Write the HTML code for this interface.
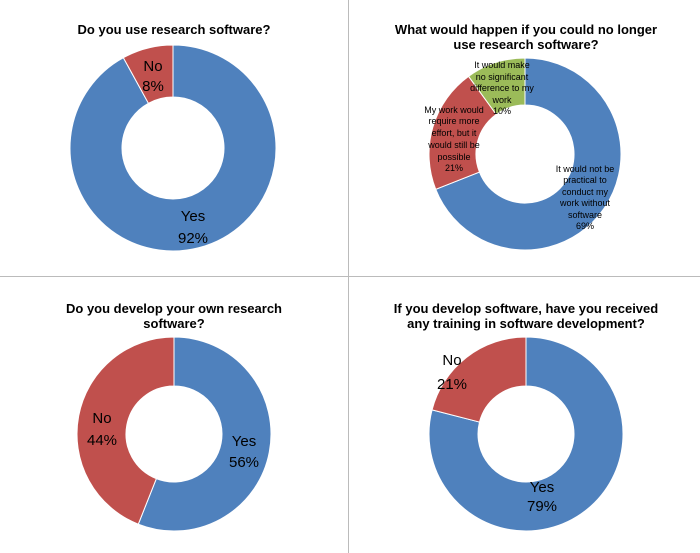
<!DOCTYPE html>
<html><head><meta charset="utf-8"><style>
body{margin:0;background:#fff;}
svg{display:block;}
text{font-family:"Liberation Sans",sans-serif;fill:#000;}
.t{font-weight:bold;font-size:13px;text-anchor:middle;}
.l{font-size:15px;text-anchor:middle;}
.s{font-size:9px;text-anchor:middle;}
</style></head><body>
<svg id="c" width="700" height="553" viewBox="0 0 700 553">
<rect width="700" height="553" fill="#fff"/>
<line x1="348.5" y1="0" x2="348.5" y2="553" stroke="#bbb"/>
<line x1="0" y1="276.5" x2="700" y2="276.5" stroke="#bbb"/>
<g id="p"></g>
<text class="t" x="174" y="34">Do you use research software?</text>
<text class="t" x="526" y="34">What would happen if you could no longer</text>
<text class="t" x="526" y="49">use research software?</text>
<text class="t" x="174" y="313">Do you develop your own research</text>
<text class="t" x="174" y="328">software?</text>
<text class="t" x="526" y="313">If you develop software, have you received</text>
<text class="t" x="526" y="328">any training in software development?</text>
<text class="l" x="153" y="71">No</text><text class="l" x="153" y="91">8%</text>
<text class="l" x="193" y="221">Yes</text><text class="l" x="193" y="243">92%</text>
<text class="s" x="502" y="68">It would make</text><text class="s" x="502" y="80">no significant</text><text class="s" x="502" y="91">difference to my</text><text class="s" x="502" y="103">work</text><text class="s" x="502" y="114">10%</text>
<text class="s" x="454" y="113">My work would</text><text class="s" x="454" y="124">require more</text><text class="s" x="454" y="136">effort, but it</text><text class="s" x="454" y="148">would still be</text><text class="s" x="454" y="160">possible</text><text class="s" x="454" y="171">21%</text>
<text class="s" x="585" y="172">It would not be</text><text class="s" x="585" y="183">practical to</text><text class="s" x="585" y="195">conduct my</text><text class="s" x="585" y="206">work without</text><text class="s" x="585" y="218">software</text><text class="s" x="585" y="229">69%</text>
<text class="l" x="102" y="423">No</text><text class="l" x="102" y="445">44%</text>
<text class="l" x="244" y="446">Yes</text><text class="l" x="244" y="467">56%</text>
<text class="l" x="452" y="365">No</text><text class="l" x="452" y="389">21%</text>
<text class="l" x="542" y="492">Yes</text><text class="l" x="542" y="511">79%</text>
</svg>
<script>
var B="#4F81BD",R="#C0504D",G="#9BBB59";
var charts=[[173,148,103,51,[[92,B],[8,R]]],[525,154,96,49,[[69,B],[21,R],[10,G]]],[174,434,97,48,[[56,B],[44,R]]],[526,434,97,48,[[79,B],[21,R]]]];
var g=document.getElementById("p"),h="";
charts.forEach(function(c){var cx=c[0],cy=c[1],r=c[2],ri=c[3],a=0;
c[4].forEach(function(s){var a0=a,a1=a+s[0]/100*2*Math.PI;a=a1;
function pt(rr,t){return (cx+rr*Math.sin(t)).toFixed(2)+" "+(cy-rr*Math.cos(t)).toFixed(2);}
var lg=(a1-a0)>Math.PI?1:0;
h+='<path d="M'+pt(r,a0)+' A'+r+' '+r+' 0 '+lg+' 1 '+pt(r,a1)+' L'+pt(ri,a1)+' A'+ri+' '+ri+' 0 '+lg+' 0 '+pt(ri,a0)+' Z" fill="'+s[1]+'" stroke="#fff" stroke-width="1"/>';});});
g.innerHTML=h;
</script>
</body></html>
